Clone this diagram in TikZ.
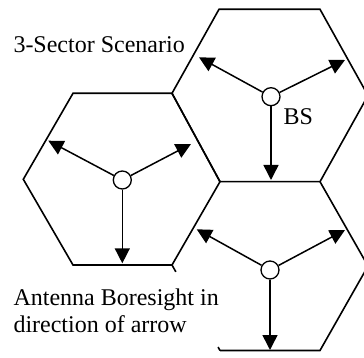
\documentclass[tikz,border=0pt]{standalone}
\usepackage{fontspec}
\setmainfont{Liberation Serif}
\usetikzlibrary{arrows.meta,calc}
\begin{document}
\begin{tikzpicture}[x=1pt,y=-1pt,
  hexline/.style={line width=1.6pt, line join=miter},
  bs/.style={circle, draw, line width=1.3pt, fill=white, minimum size=18pt, inner sep=0pt},
  beam/.style={-{Triangle[length=15pt,width=15pt]}, line width=1.5pt},
  lbl/.style={font=\fontsize{24}{27}\selectfont, inner sep=0pt, anchor=base west}]
\useasboundingbox (0,0) rectangle (364,358);
\clip (0,0) rectangle (364,358);
% hexagon vertices
\coordinate (b1) at (219,9.3);
\coordinate (b2) at (320,9.3);
\coordinate (b3) at (368,95.5);
\coordinate (b4) at (320,181.7);
\coordinate (b5) at (220,181.7);
\coordinate (b6) at (172,93.3);
\coordinate (a1) at (73,93.3);
\coordinate (a4) at (172,265);
\coordinate (a5) at (73,265);
\coordinate (a6) at (23.3,179.3);
\coordinate (c3) at (368,266);
\coordinate (c4) at (320,350.5);
\coordinate (c5) at (220,350.5);
% hexagons
\draw[hexline] (b1)--(b2)--(b3)--(b4)--(b5)--(b6)--cycle;
\draw[hexline] (a1)--(b6)--(b5)--(a4)--(a5)--(a6)--cycle;
\draw[hexline] (b4)--(c3)--(c4)--(c5);
\draw[hexline] (a4) -- ($(a4)!0.08!(c5)$);
\draw[hexline] ($(a4)!0.96!(c5)$) -- (c5);
% base stations
\node[bs] (sA) at (122.3,180) {};
\node[bs] (sB) at (271,96.7) {};
\node[bs] (sC) at (270,270) {};
% beam tips
\coordinate (tA1) at (48.3,140.7);
\coordinate (tA2) at (191,144);
\coordinate (tA3) at (122.3,263.3);
\coordinate (tB1) at (199,57.3);
\coordinate (tB2) at (345,60);
\coordinate (tB3) at (271,180);
\coordinate (tC1) at (196.7,229.3);
\coordinate (tC2) at (345,230);
\coordinate (tC3) at (270,350);
\foreach \s in {A,B,C}{
  \foreach \k in {1,2,3}{
    \draw[beam] (s\s) -- (t\s\k);
  }
}
% labels
\node[lbl] (title) at (13.3,53) {3-Sector Scenario};
\node[lbl] (bslbl) at (283.3,124.3) {BS};
\node[lbl] (note1) at (13.3,305) {Antenna Boresight in};
\node[lbl] (note2) at (13.3,332) {direction of arrow};
\end{tikzpicture}
\end{document}
